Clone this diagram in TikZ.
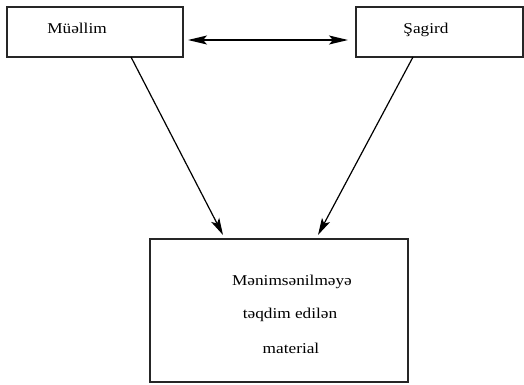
\documentclass[tikz,border=0pt]{standalone}
\usepackage{fontspec}
\setmainfont{Liberation Serif}
\usetikzlibrary{arrows.meta}
\newcommand{\widetxt}[1]{\scalebox{1.15}[1]{#1}}
\begin{document}
\begin{tikzpicture}[x=1pt,y=-1pt,
  box/.style={draw=black!85,line width=1.2pt,inner sep=0pt,outer sep=0pt,minimum width=#1},
  lbl/.style={inner sep=0pt,font=\fontsize{15}{17}\selectfont,anchor=base},
  conn/.style={line width=1.2pt,-{Stealth[length=17pt,width=9pt,inset=4pt]}},
  dbl/.style={line width=1.2pt,{Stealth[length=19pt,width=9pt,inset=4pt]}-{Stealth[length=19pt,width=9pt,inset=4pt]}}]
\useasboundingbox (0,0) rectangle (524,384);
\node[box=176pt,minimum height=50pt] (L) at (95,32) {};
\node[box=167pt,minimum height=50pt] (R) at (439.5,32) {};
\node[box=258pt,minimum height=143pt] (B) at (279,310.5) {};
\node[lbl] (tL) at (77,33) {\widetxt{Müəllim}};
\node[lbl] (tR) at (426,33) {\widetxt{Şagird}};
\node[lbl] (t1) at (292,285) {\widetxt{Mənimsənilməyə}};
\node[lbl] (t2) at (290,318) {\widetxt{təqdim edilən}};
\node[lbl] (t3) at (291,353) {\widetxt{material}};
\draw[dbl] ([shift={(5pt,-8pt)}]L.east) -- ([shift={(-8pt,-8pt)}]R.west);
\draw[conn] ([xshift=36pt]L.south) -- ([shift={(-56pt,4pt)}]B.north);
\draw[conn] ([xshift=-26.5pt]R.south) -- ([shift={(39pt,4pt)}]B.north);
\end{tikzpicture}
\end{document}
